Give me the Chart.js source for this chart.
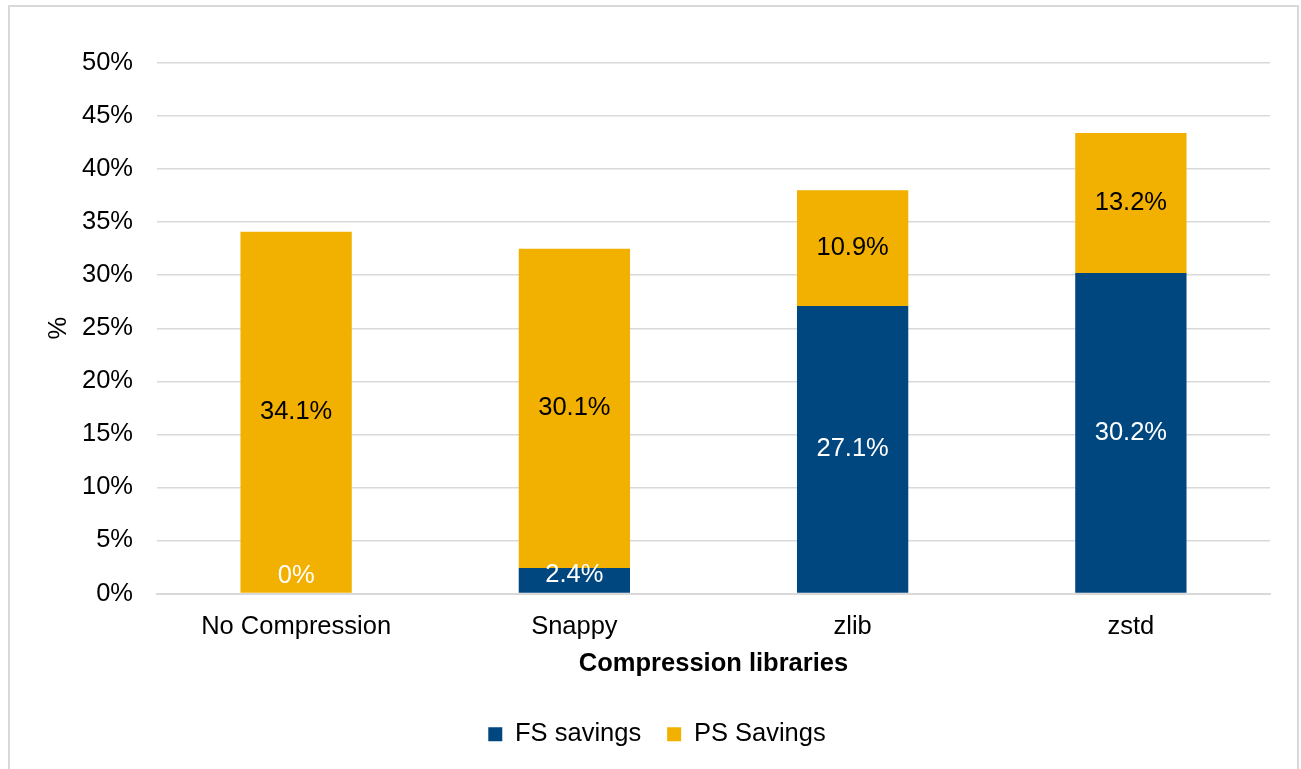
<!DOCTYPE html>
<html>
<head>
<meta charset="utf-8">
<script src="https://cdn.jsdelivr.net/npm/chart.js@4"></script>
<style>
  body { margin: 0; background: #fff; }
  #wrap { width: 1301px; height: 769px; }
</style>
</head>
<body>
<div id="wrap"><canvas id="savingsChart" width="1301" height="769"></canvas></div>
<script>
/* ---- data ---- */
var libraries = ["No Compression", "Snappy", "zlib", "zstd"];
var fsSavings = [0, 2.4, 27.1, 30.2];
var psSavings = [34.1, 30.1, 10.9, 13.2];
var yTicks = [0, 5, 10, 15, 20, 25, 30, 35, 40, 45, 50];

var fsColor = "#00467f";
var psColor = "#f2b000";
var font = "'Liberation Sans', Arial, sans-serif";
var fsz = 25.5;

// outer frame like the office chart area
var framePlugin = {
  id: "frame",
  beforeDraw: function (chart) {
    var ctx = chart.ctx;
    ctx.save();
    ctx.fillStyle = "#fff";
    ctx.fillRect(0, 0, chart.width, chart.height);
    ctx.strokeStyle = "#d9d9d9";
    ctx.lineWidth = 2;
    ctx.strokeRect(9, 6, 1289, 800);
    ctx.restore();
  }
};

// value labels in the middle of each segment
var labelPlugin = {
  id: "segLabels",
  afterDatasetsDraw: function (chart) {
    var ctx = chart.ctx;
    ctx.save();
    ctx.font = fsz + "px " + font;
    ctx.textAlign = "center";
    ctx.textBaseline = "middle";
    chart.data.datasets.forEach(function (ds, i) {
      var meta = chart.getDatasetMeta(i);
      meta.data.forEach(function (bar, j) {
        var y = (bar.y + bar.base) / 2;
        if (y > bar.base - 18) y = bar.base - 18;
        ctx.fillStyle = i === 0 ? "#ffffff" : "#000000";
        ctx.fillText(ds.data[j] + "%", bar.x, y);
      });
    });
    ctx.restore();
  }
};

new Chart("savingsChart", {
  type: "bar",
  data: {
    labels: libraries,
    datasets: [
      { label: "FS savings", data: fsSavings, backgroundColor: fsColor,
        barPercentage: 0.4, categoryPercentage: 1 },
      { label: "PS Savings", data: psSavings, backgroundColor: psColor,
        barPercentage: 0.4, categoryPercentage: 1 }
    ]
  },
  plugins: [framePlugin, labelPlugin],
  options: {
    responsive: false,
    animation: false,
    layout: { padding: { left: 44, right: 31, top: 63, bottom: 12 } },
    plugins: {
      legend: {
        position: "bottom",
        labels: {
          font: { family: font, size: fsz },
          color: "#000",
          boxWidth: 14,
          boxHeight: 14,
          padding: 26
        }
      },
      tooltip: { enabled: false }
    },
    scales: {
      x: {
        stacked: true,
        afterFit: function (axis) { axis.height = 102; },
        grid: { display: false },
        border: { color: "#d9d9d9", width: 2 },
        ticks: { font: { family: font, size: fsz }, color: "#000", padding: 10 },
        title: {
          display: true,
          text: "Compression libraries",
          font: { family: font, size: fsz, weight: "bold" },
          color: "#000",
          padding: { top: 0, bottom: 16 }
        }
      },
      y: {
        stacked: true,
        min: 0,
        max: 50,
        afterFit: function (axis) { axis.width = 113; },
        afterBuildTicks: function (axis) {
          axis.ticks = yTicks.map(function (v) { return { value: v }; });
        },
        grid: { color: "#d9d9d9", lineWidth: 1.5, drawTicks: false },
        border: { display: false },
        ticks: {
          font: { family: font, size: fsz },
          color: "#000",
          padding: 24,
          callback: function (v) { return v + "%"; }
        },
        title: {
          display: true,
          text: "%",
          font: { family: font, size: fsz },
          color: "#000",
          padding: { top: 0, bottom: 0 }
        }
      }
    }
  }
});
</script>
</body>
</html>
